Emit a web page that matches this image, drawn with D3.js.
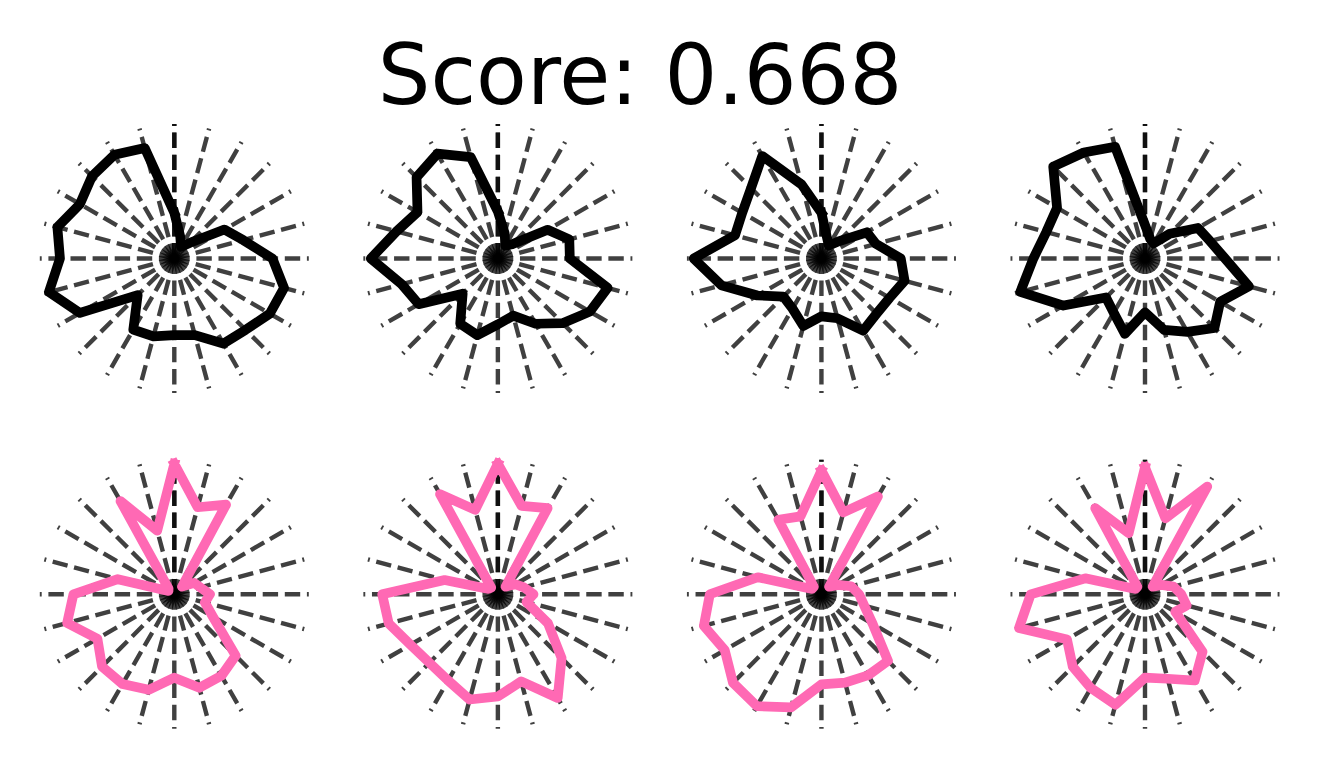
<!DOCTYPE html>
<html>
<head>
<meta charset="utf-8">
<script src="https://cdn.jsdelivr.net/npm/d3@7"></script>
<style>
  html, body { margin: 0; padding: 0; background: #ffffff; }
  svg { display: block; }
</style>
</head>
<body>
<svg id="chart" width="1320" height="770"></svg>
<script>
// ---------------- data ----------------
const title = "Score: 0.668";
const angles = [0, 15, 30, 45, 60, 75, 90, 105, 120, 135, 150, 165,
                180, 195, 210, 225, 240, 255, 270, 285, 300, 315, 330, 345];
const spokeAngles = d3.range(25).map(i => i * 15); // 0..360, first and last overlap

const top1 = [0.34, 0.17, 0.10, 0.165, 0.43, 0.53, 0.73, 0.845, 0.82, 0.75, 0.73, 0.59,
              0.57, 0.60, 0.61, 0.385, 0.81, 0.965, 0.85, 0.90, 0.81, 0.865, 0.89, 0.85];
const top2 = [0.35, 0.195, 0.11, 0.15, 0.427, 0.55, 0.535, 0.845, 0.79, 0.68, 0.56, 0.44,
              0.49, 0.59, 0.56, 0.37, 0.68, 0.74, 0.945, 0.78, 0.69, 0.855, 0.90, 0.78];
const top3 = [0.34, 0.16, 0.11, 0.18, 0.39, 0.42, 0.59, 0.64, 0.585, 0.58, 0.62, 0.46,
              0.43, 0.52, 0.43, 0.40, 0.55, 0.77, 0.95, 0.665, 0.68, 0.74, 0.88, 0.57];
const top4 = [0.25, 0.15, 0.13, 0.26, 0.455, 0.50, 0.595, 0.80, 0.645, 0.73, 0.63, 0.55,
              0.40, 0.58, 0.465, 0.41, 0.70, 0.96, 0.83, 0.76, 0.755, 0.965, 0.91, 0.86];
const bottom1 = [0.97, 0.67, 0.77, 0.08, 0.17, 0.20, 0.265, 0.235, 0.33, 0.645, 0.70, 0.72,
                 0.62, 0.735, 0.77, 0.76, 0.66, 0.825, 0.75, 0.435, 0.05, 0.06, 0.80, 0.49];
const bottom2 = [0.97, 0.68, 0.74, 0.08, 0.15, 0.20, 0.265, 0.22, 0.43, 0.67, 0.89, 0.67,
                 0.76, 0.81, 0.74, 0.72, 0.75, 0.84, 0.86, 0.41, 0.08, 0.07, 0.86, 0.65];
const bottom3 = [0.92, 0.63, 0.84, 0.08, 0.14, 0.23, 0.28, 0.33, 0.44, 0.70, 0.695, 0.68,
                 0.67, 0.87, 0.96, 0.93, 0.83, 0.905, 0.83, 0.49, 0.08, 0.08, 0.64, 0.60];
const bottom4 = [0.945, 0.585, 0.925, 0.08, 0.14, 0.22, 0.27, 0.32, 0.26, 0.605, 0.74, 0.65,
                 0.62, 0.85, 0.805, 0.76, 0.67, 0.97, 0.85, 0.46, 0.08, 0.08, 0.74, 0.47];

const rows = [
  { color: "#000000", series: [top1, top2, top3, top4] },
  { color: "#ff69b4", series: [bottom1, bottom2, bottom3, bottom4] }
];

// ---------------- layout ----------------
const svg = d3.select("#chart");
const R = 134.5;
const colX = d3.scaleLinear().domain([0, 3]).range([174.3, 1145.0]);
const rowY = d3.scaleLinear().domain([0, 1]).range([258.5, 594.3]);
const rScale = d3.scaleLinear().domain([0, 1]).range([0, R]);
const toRad = d => d * Math.PI / 180;

svg.append("text")
  .attr("x", 640)
  .attr("y", 104)
  .attr("text-anchor", "middle")
  .attr("font-family", "DejaVu Sans, sans-serif")
  .attr("font-size", 83)
  .attr("fill", "#000")
  .text(title);

const spokeLine = d3.lineRadial()
  .angle(d => toRad(d.a))
  .radius(d => rScale(d.r));

const polyLine = d3.lineRadial()
  .angle((d, i) => toRad(angles[i % angles.length]))
  .radius(d => rScale(d))
  .curve(d3.curveLinear);

rows.forEach((row, ri) => {
  row.series.forEach((vals, ci) => {
    const g = svg.append("g")
      .attr("transform", `translate(${colX(ci)},${rowY(ri)})`);

    g.selectAll("path.spoke")
      .data(spokeAngles)
      .join("path")
      .attr("class", "spoke")
      .attr("d", a => spokeLine([{ a: a, r: 0 }, { a: a, r: 1 }]))
      .attr("fill", "none")
      .attr("stroke", "#000")
      .attr("stroke-opacity", 0.75)
      .attr("stroke-width", 4.4)
      .attr("stroke-dasharray", "15.4,6.7")
      .attr("stroke-linecap", "butt");

    const closed = vals.concat([vals[0]]);
    g.append("path")
      .attr("d", polyLine(closed))
      .attr("fill", "none")
      .attr("stroke", row.color)
      .attr("stroke-width", 9.7)
      .attr("stroke-linejoin", "round")
      .attr("stroke-linecap", "square");
  });
});
</script>
</body>
</html>
